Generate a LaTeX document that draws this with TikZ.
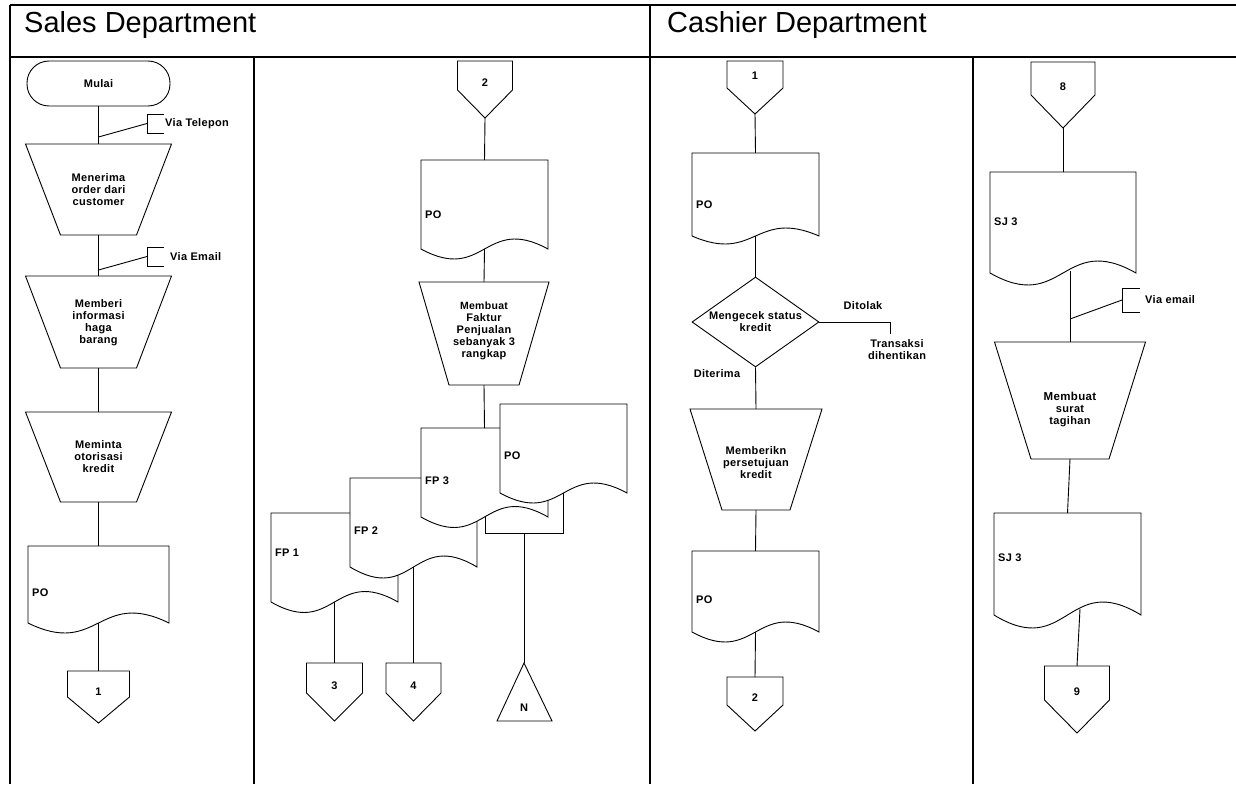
\documentclass[tikz,border=0pt]{standalone}
\usepackage{fontspec}
\setmainfont{Liberation Sans}
\newfontfamily\labfont{Liberation Sans}[LetterSpace=3]
\usetikzlibrary{shapes.geometric}

% document symbol: name, left, right, top, wave base, amplitude, label y, label
\newcommand\docshape[8]{%
  \draw[shapeline, fill=white] (#2,#4) -- (#3,#4) -- (#3,#5)
    .. controls ({(#2+#3)/2},{#5-3.46*#6}) and ({(#2+#3)/2},{#5+3.46*#6}) .. (#2,#5) -- cycle;
  \coordinate (#1-n) at ({(#2+#3)/2},#4);
  \coordinate (#1-s) at ({(#2+#3)/2},#5);
  \node[lab, anchor=west] (#1-t) at ({#2+4},#7) {#8};
}
% manual operation: name, centre x, top, bottom, half top, half bottom, text y, text
\newcommand\trapshape[8]{%
  \draw[shapeline, fill=white] ({#2-#5},#3) -- ({#2+#5},#3) -- ({#2+#6},#4) -- ({#2-#6},#4) -- cycle;
  \coordinate (#1-n) at (#2,#3);
  \coordinate (#1-s) at (#2,#4);
  \node[lab] (#1-t) at (#2,#7) {#8};
}
% off-page connector: name, centre x, half width, top, side bottom, tip, text y, text
\newcommand\offpage[8]{%
  \draw[shapeline, fill=white] ({#2-#3},#4) -- ({#2+#3},#4) -- ({#2+#3},#5) -- (#2,#6) -- ({#2-#3},#5) -- cycle;
  \coordinate (#1-n) at (#2,#4);
  \coordinate (#1-s) at (#2,#6);
  \node[lab] (#1-t) at (#2,#7) {#8};
}
% annotation bracket: name, x, top y, bottom y, tick end x, text x, text
\newcommand\annot[7]{%
  \draw[shapeline] (#5,#3) -- (#2,#3) -- (#2,#4) -- (#5,#4);
  \coordinate (#1-a) at (#2,{(#3+#4)/2});
  \node[lab, anchor=west] (#1-t) at (#6,{(#3+#4)/2}) {#7};
}

\begin{document}
\begin{tikzpicture}[x=1pt, y=-1pt,
  shapeline/.style={line width=0.9pt, line join=miter},
  frameline/.style={line width=2.4pt},
  lab/.style={font=\labfont\bfseries\fontsize{11}{12}\selectfont, inner sep=0pt, align=center},
  title/.style={font=\fontsize{29}{31}\selectfont, inner sep=0pt, anchor=base west}]

\useasboundingbox (0,0) rectangle (1236,784);

% ---- swimlane frame ----
\draw[frameline] (10,5) -- (1236,5);
\draw[frameline] (10,57) -- (1236,57);
\draw[frameline] (10,5) -- (10,784);
\draw[frameline] (650,5) -- (650,784);
\draw[frameline] (254,57) -- (254,784);
\draw[frameline] (973,57) -- (973,784);
\node[title] (hsales) at (24,33) {Sales Department};
\node[title] (hcash) at (667,33) {Cashier Department};

% ---- lane 1: sales order intake ----
\node[lab, draw, line width=0.9pt, rounded corners=22pt, minimum width=143pt, minimum height=45pt] (start) at (98.5,83.5) {Mulai};
\trapshape{t1}{98.5}{144}{235}{73}{38}{190}{Menerima\\order dari\\customer}
\trapshape{t2}{98.5}{276}{368}{73}{38}{323}{Memberi\\informasi\\haga\\barang}
\trapshape{t3}{98.5}{412}{502}{73}{38}{457}{Meminta\\otorisasi\\kredit}
\docshape{d1}{28}{169}{546}{623}{10}{593}{PO}
\offpage{o1}{98.5}{31}{671}{697}{723}{692}{1}
\annot{n1}{147}{114}{133}{164}{165}{Via Telepon}
\annot{n2}{147}{247}{266}{164}{170}{Via Email}
\coordinate (j1) at (98.5,137);
\coordinate (j2) at (98.5,270);

\draw[shapeline] (start.south) -- (t1-n);
\draw[shapeline] (t1-s) -- (t2-n);
\draw[shapeline] (t2-s) -- (t3-n);
\draw[shapeline] (t3-s) -- (d1-n);
\draw[shapeline] (d1-s) -- (o1-n);
\draw[shapeline] (j1) -- (n1-a);
\draw[shapeline] (j2) -- (n2-a);

% ---- lane 2: sales invoice ----
\offpage{o2}{485}{27.5}{61}{90}{118}{83}{2}
\docshape{d2}{421}{548}{160}{249}{10}{215}{PO}
\trapshape{t4}{484}{282}{385}{65}{35}{331}{\fontsize{10.5}{12}\selectfont Membuat\\Faktur\\Penjualan\\sebanyak 3\\rangkap}
\docshape{fp1}{271}{398}{513}{602}{10.5}{553}{FP 1}
\docshape{fp2}{350}{477}{478}{567}{11}{531}{FP 2}
\draw[shapeline, fill=white] (485,470) rectangle (563,533);
\coordinate (rb) at (524,533);
\docshape{fp3}{421}{548}{428}{517}{10.5}{481}{FP 3}
\docshape{d3}{500}{627}{404}{493}{10}{456}{PO}
\offpage{o3}{334.5}{28}{663}{693}{721}{686}{3}
\offpage{o4}{413.5}{27.5}{663}{693}{721}{686}{4}
\draw[shapeline, fill=white] (524,663) -- (552,721) -- (497,721) -- cycle;
\coordinate (fileN) at (524,663);
\node[lab] (fileN-t) at (524,708) {N};

\draw[shapeline] (o2-s) -- (d2-n);
\draw[shapeline] (d2-s) -- (t4-n);
\draw[shapeline] (t4-s) -- (fp3-n);
\draw[shapeline] (fp1-s) -- (o3-n);
\draw[shapeline] (fp2-s) -- (o4-n);
\draw[shapeline] (rb) -- (fileN);

% ---- lane 3: credit check ----
\offpage{o5}{755}{28}{61}{88}{114}{76}{1}
\docshape{d4}{692}{819}{153}{236}{8}{205}{PO}
\node[lab, draw, line width=0.9pt, shape=diamond, aspect=1.41, minimum width=127pt, minimum height=90pt, fill=white] (dec) at (755.5,322) {Mengecek status\\kredit};
\trapshape{t5}{756}{409}{510}{66}{34}{463}{Memberikn\\persetujuan\\kredit}
\docshape{d5}{692}{819}{551}{632}{10}{600}{PO}
\offpage{o6}{755}{28}{677}{705}{731}{698}{2}
\coordinate (rejEnd) at (890,334);
\node[lab] (rej) at (863,306) {Ditolak};
\node[lab] (stop) at (897,350) {Transaksi\\dihentikan};
\node[lab] (acc) at (717,374) {Diterima};

\draw[shapeline] (o5-s) -- (d4-n);
\draw[shapeline] (d4-s) -- (dec.north);
\draw[shapeline] (dec.south) -- (t5-n);
\draw[shapeline] (t5-s) -- (d5-n);
\draw[shapeline] (d5-s) -- (o6-n);
\draw[shapeline] (dec.east) -| (rejEnd);

% ---- lane 4: billing ----
\offpage{o7}{1063}{32}{62}{95}{128}{87}{8}
\docshape{d6}{990}{1136}{172}{273}{12}{222}{SJ 3}
\trapshape{t6}{1070}{342}{459}{75.5}{39}{409}{\fontsize{11.5}{16}\selectfont Membuat\\surat\\tagihan}
\docshape{d7}{994}{1141}{513}{615}{13}{558}{SJ 3}
\offpage{o8}{1077}{32.5}{666}{700}{733}{692}{9}
\annot{n3}{1122}{288}{312}{1140}{1145}{Via email}
\coordinate (d6-out) at (1070,271);
\coordinate (d7-out) at (1080,609);
\coordinate (j3) at (1070,319);

\draw[shapeline] (o7-s) -- (d6-n);
\draw[shapeline] (d6-out) -- (t6-n);
\draw[shapeline] (t6-s) -- (d7-n);
\draw[shapeline] (d7-out) -- (o8-n);
\draw[shapeline] (j3) -- (n3-a);

\end{tikzpicture}
\end{document}
